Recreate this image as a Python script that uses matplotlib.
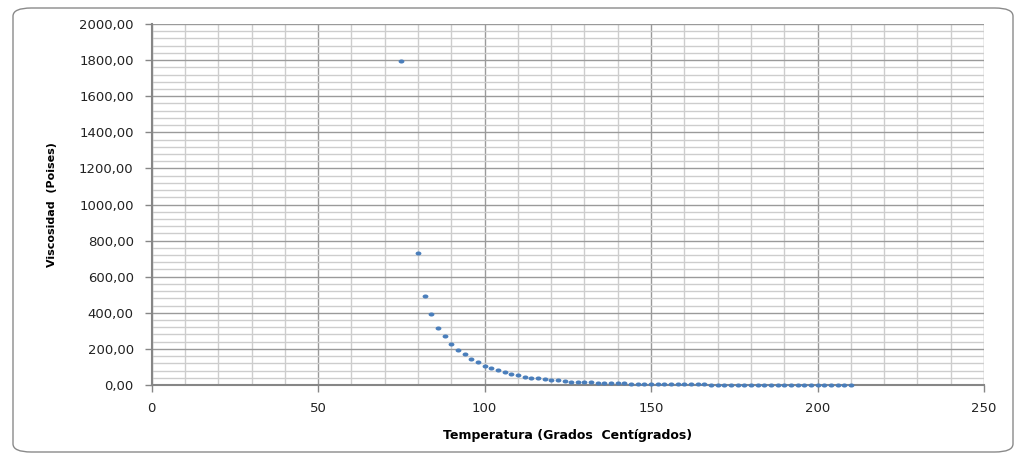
import matplotlib
matplotlib.use("Agg")
import matplotlib.pyplot as plt
import numpy as np
from matplotlib.patches import FancyBboxPatch
from matplotlib.path import Path
from matplotlib.ticker import MultipleLocator, FuncFormatter

# temperatura (grados centigrados) and viscosidad (poises)
temperatura = [75, 80, 82, 84, 86, 88, 90, 92, 94, 96, 98,
               100, 102, 104, 106, 108, 110, 112, 114, 116, 118,
               120, 122, 124, 126, 128, 130, 132, 134, 136, 138,
               140, 142, 144, 146, 148, 150, 152, 154, 156, 158,
               160, 162, 164, 166, 168, 170, 172, 174, 176, 178,
               180, 182, 184, 186, 188, 190, 192, 194, 196, 198,
               200, 202, 204, 206, 208, 210]
viscosidad = [1793, 731, 493, 393, 314, 273, 227, 192, 170, 146, 126,
              104, 93, 81, 70, 63, 55, 46, 40, 37, 32,
              29, 26, 22, 19, 18, 16, 15, 13, 13, 12,
              10, 9, 8, 8, 7, 6.5, 6, 5.5, 5, 4.5,
              4, 3.6, 3.2, 3, 2.7, 2.5, 2.2, 2, 1.9, 1.7,
              1.6, 1.5, 1.3, 1.2, 1.1, 1.0, 0.9, 0.9, 0.8, 0.7,
              0.7, 0.6, 0.6, 0.5, 0.5, 0.5]

xlabel = "Temperatura (Grados  Centígrados)"
ylabel = "Viscosidad  (Poises)"

blue = "#4a7ebb"
major_grid = "#9a9a9a"
minor_grid = "#cdcdcd"
axis_gray = "#868686"

plt.rcParams["font.family"] = ["DejaVu Sans"]

fig = plt.figure(figsize=(10.16, 4.54), dpi=100)

# rounded outer frame
frame = FancyBboxPatch((13 / 1016, 2 / 454), 1000 / 1016, 444 / 454,
                       boxstyle="round,pad=0,rounding_size=0.018",
                       transform=fig.transFigure, facecolor="none",
                       edgecolor="#8a8a8a", linewidth=1.0, zorder=-1)
fig.patches.append(frame)

ax = fig.add_axes([151.7 / 1016, 69 / 454, (984 - 151.7) / 1016, 361 / 454])
ax.set_facecolor("none")

# slightly wide ellipse marker like the original
t = np.linspace(0, 2 * np.pi, 30)
ellipse = Path(np.column_stack([np.cos(t), 0.7 * np.sin(t)]))

ax.plot(temperatura, viscosidad, linestyle="none", marker=ellipse,
        markersize=4.2, color=blue, markeredgewidth=0, zorder=3, clip_on=False)

ax.set_xlim(0, 250)
ax.set_ylim(0, 2000)
ax.xaxis.set_major_locator(MultipleLocator(50))
ax.xaxis.set_minor_locator(MultipleLocator(10))
ax.yaxis.set_major_locator(MultipleLocator(200))
ax.yaxis.set_minor_locator(MultipleLocator(40))
ax.yaxis.set_major_formatter(FuncFormatter(lambda v, p: f"{v:.2f}".replace(".", ",")))
ax.xaxis.set_major_formatter(FuncFormatter(lambda v, p: f"{v:.0f}"))

ax.grid(which="minor", color=minor_grid, linewidth=1.0, zorder=0)
ax.grid(which="major", color=major_grid, linewidth=1.0, zorder=1)
ax.set_axisbelow(True)

for s in ["top", "right"]:
    ax.spines[s].set_visible(False)
for s in ["left", "bottom"]:
    ax.spines[s].set_color(axis_gray)
    ax.spines[s].set_linewidth(1.5)

ax.tick_params(which="minor", length=0)
ax.tick_params(which="major", length=5, color=axis_gray, width=1,
               labelsize=9.5, labelcolor="#222222")
ax.tick_params(axis="x", pad=7)
ax.tick_params(axis="y", pad=8)

ax.set_xlabel(xlabel, fontsize=9, fontweight="bold", labelpad=10)
ax.set_ylabel(ylabel, fontsize=8, fontweight="bold", labelpad=16)

fig.savefig("out.png", dpi=100)
